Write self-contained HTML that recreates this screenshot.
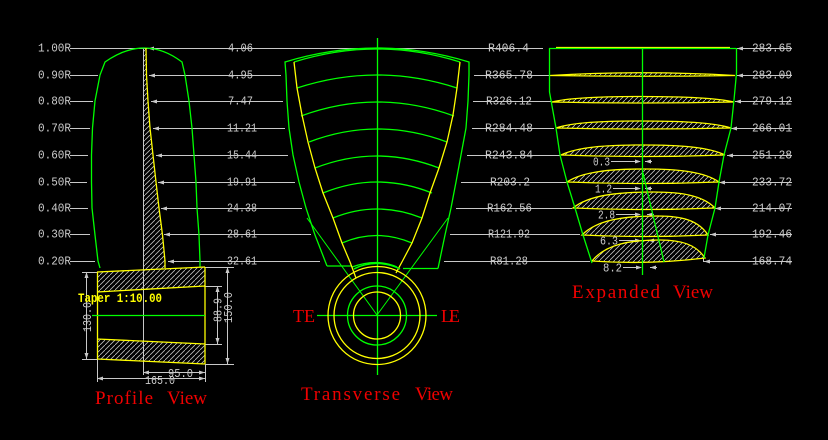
<!DOCTYPE html>
<html><head><meta charset="utf-8"><style>
html,body{margin:0;padding:0;background:#000;}
svg{display:block;}
.g text{font-family:"Liberation Mono",monospace;font-size:12px;fill:#cccccc;}
.r{font-family:"Liberation Serif",serif;font-size:19px;fill:#f00000;}
</style></head><body>
<svg width="828" height="440" viewBox="0 0 828 440" xmlns="http://www.w3.org/2000/svg">
<defs>
<pattern id="h" width="5" height="5" patternUnits="userSpaceOnUse">
<path d="M-1,6 L6,-1" stroke="#bdbdbd" stroke-width="0.8" fill="none"/>
</pattern>
</defs>
<rect width="828" height="440" fill="#000"/>

<!-- ===== hatch fills ===== -->
<polygon points="143,48 146,48 146.5,75 148,101 150,128 153,155 156,182 159,208 162.5,235 165,261 165,270 143,270" fill="url(#h)"/>
<polygon points="97,272 205,267 205,286 97,292" fill="url(#h)"/>
<polygon points="97,339 205,344 205,364 97,359" fill="url(#h)"/>

<!-- expanded sections hatch -->
<g fill="url(#h)">
<path d="M550,75.5 Q643,70 735,75.5 Q643,77 550,75.5Z"/>
<path d="M552,102 C569.6,97.6 600.4,96.5 640,96.5 C682.3,96.5 715.2,97.6 734,102 Q643,104 552,102Z"/>
<path d="M556,128 C572.8,122.4 602.2,121 640,121 C681,121 712.8,122.4 731,128 Q643.5,130 556,128Z"/>
<path d="M561,155 C577.4,147 606.1,145 643,145 C679.9,145 708.6,147 725,155 Q643,158 561,155Z"/>
<path d="M567,182 C582.6,171.6 609.9,169 645,169 C678.3,169 704.2,171.6 719,182 Q643,185 567,182Z"/>
<path d="M573,208 C589,195.2 617,192 653,192 C680.9,192 702.6,195.2 715,208 Q644,211 573,208Z"/>
<path d="M582,235 C597.2,219.8 623.8,216 658,216 C680.5,216 698,219.8 708,235 Q645,238 582,235Z"/>
<path d="M592,261 C605.6,244.2 629.4,240 660,240 C680.3,240 696,244.2 705,258 Q648,265 592,261Z"/>
</g>

<!-- ===== gray lines ===== -->
<g stroke="#c8c8c8" stroke-width="1" fill="none">
<path d="M70,48.5 L543,48.5 M737,48.5 L792,48.5"/>
<path d="M70,75.5 L98,75.5 M149,75.5 L281,75.5 M474,75.5 L549,75.5 M737,75.5 L792,75.5"/>
<path d="M70,101.5 L93,101.5 M151,101.5 L283,101.5 M473,101.5 L551,101.5 M735,101.5 L792,101.5"/>
<path d="M70,128.5 L90,128.5 M153,128.5 L285,128.5 M472,128.5 L554,128.5 M731,128.5 L792,128.5"/>
<path d="M70,155.5 L88,155.5 M156,155.5 L288,155.5 M467,155.5 L560,155.5 M727,155.5 L792,155.5"/>
<path d="M70,182.5 L87,182.5 M158,182.5 L295,182.5 M461,182.5 L566,182.5 M719,182.5 L792,182.5"/>
<path d="M70,208.5 L88,208.5 M161,208.5 L302,208.5 M456,208.5 L572,208.5 M715,208.5 L792,208.5"/>
<path d="M70,234.5 L90,234.5 M164,234.5 L311,234.5 M450,234.5 L580,234.5 M710,234.5 L792,234.5"/>
<path d="M70,261.5 L95,261.5 M168,261.5 L320,261.5 M444,261.5 L590,261.5 M704,261.5 L792,261.5"/>
<!-- profile center line -->
<path d="M143.5,48 L143.5,375"/>
<!-- hub dimension lines -->
<path d="M82,272.5 L97,272.5 M82,359.5 L97,359.5 M86.5,272 L86.5,359"/>
<path d="M205,286.5 L222,286.5 M205,344.5 L222,344.5 M217.5,286 L217.5,344"/>
<path d="M205,267.5 L234,267.5 M205,364.5 L234,364.5 M227.5,267 L227.5,364"/>
<path d="M97.5,359 L97.5,382 M205.5,364 L205.5,382"/>
<path d="M143,372.5 L205,372.5 M97,378.5 L205,378.5"/>
<!-- expanded small dims -->
<path d="M611,161.5 L640,161.5 M645,161.5 L652,161.5"/>
<path d="M613,188.5 L640,188.5 M645,188.5 L652,188.5"/>
<path d="M616,214.5 L640,214.5 M647,214.5 L654,214.5"/>
<path d="M619,240.5 L640,240.5 M648,240.5 L655,240.5"/>
<path d="M623,267.5 L641,267.5 M650,267.5 L657,267.5"/>
<path d="M703.5,258 L703.5,262"/>
</g>

<!-- arrowheads -->
<g fill="#c8c8c8">
<polygon points="148,48.5 154,46.5 154,50.5"/>
<polygon points="149,75.5 155,73.5 155,77.5"/>
<polygon points="151,101.5 157,99.5 157,103.5"/>
<polygon points="153,128.5 159,126.5 159,130.5"/>
<polygon points="156,155.5 162,153.5 162,157.5"/>
<polygon points="158,182.5 164,180.5 164,184.5"/>
<polygon points="161,208.5 167,206.5 167,210.5"/>
<polygon points="164,234.5 170,232.5 170,236.5"/>
<polygon points="168,261.5 174,259.5 174,263.5"/>

<polygon points="737,48.5 743,46.5 743,50.5"/>
<polygon points="737,75.5 743,73.5 743,77.5"/>
<polygon points="735,101.5 741,99.5 741,103.5"/>
<polygon points="731,128.5 737,126.5 737,130.5"/>
<polygon points="727,155.5 733,153.5 733,157.5"/>
<polygon points="719,182.5 725,180.5 725,184.5"/>
<polygon points="715,208.5 721,206.5 721,210.5"/>
<polygon points="710,234.5 716,232.5 716,236.5"/>
<polygon points="704,261.5 710,259.5 710,263.5"/>

<!-- expanded small dims arrows -->
<polygon points="641,161.5 635,159.5 635,163.5"/><polygon points="645,161.5 651,159.5 651,163.5"/>
<polygon points="641,188.5 635,186.5 635,190.5"/><polygon points="645,188.5 651,186.5 651,190.5"/>
<polygon points="641,214.5 635,212.5 635,216.5"/><polygon points="647,214.5 653,212.5 653,216.5"/>
<polygon points="641,240.5 635,238.5 635,242.5"/><polygon points="648,240.5 654,238.5 654,242.5"/>
<polygon points="642,267.5 636,265.5 636,269.5"/><polygon points="650,267.5 656,265.5 656,269.5"/>

<!-- hub dims arrows -->
<polygon points="86.5,272 84.5,278 88.5,278"/><polygon points="86.5,359 84.5,353 88.5,353"/>
<polygon points="217.5,286 215.5,292 219.5,292"/><polygon points="217.5,344 215.5,338 219.5,338"/>
<polygon points="227.5,267 225.5,273 229.5,273"/><polygon points="227.5,364 225.5,358 229.5,358"/>
<polygon points="143,372.5 149,370.5 149,374.5"/><polygon points="205,372.5 199,370.5 199,374.5"/>
<polygon points="97,378.5 103,376.5 103,380.5"/><polygon points="205,378.5 199,376.5 199,380.5"/>
</g>

<!-- ===== profile view ===== -->
<path d="M100,268 L98,261 L95,235 L92,208 L91.5,182 L91.5,155 L92.5,128 L95,101 L100,75 L105,62 Q145,34 182,62 L185,75 L189,101 L192,128 L194,155 L196,182 L197,208 L199,235 L200,261 L200,267" stroke="#00ff00" fill="none" stroke-width="1.3"/>
<polyline points="146,48 146.5,75 148,101 150,128 153,155 156,182 159,208 162.5,235 165,261 165,268" stroke="#ffff00" fill="none" stroke-width="1.3"/>
<path d="M97,272 L205,267 M97,292 L205,286 M97,339 L205,344 M97,359 L205,364 M97.5,272 L97.5,359 M205,267 L205,364" stroke="#ffff00" fill="none" stroke-width="1.3"/>
<path d="M92,315.5 L205,315.5" stroke="#00ff00" stroke-width="1.2"/>

<!-- ===== transverse view ===== -->
<g stroke="#00ff00" fill="none" stroke-width="1.3">
<path d="M327,266 L315,235 L306,208 L299,182 L293,155 L289,128 L287,101 L286,75 L285,62 Q377,34 469,62 L469,75 L468,101 L466,128 L461,155 L456,182 L451,208 L445,235 L438,268.5"/>
<path d="M294,62 Q377,36 460,62"/>
<path d="M297,88 Q377,62 457,88"/>
<path d="M301,116 Q377,88 454,116"/>
<path d="M309,142 Q377,116 447,142"/>
<path d="M315,168 Q377,144 439,168"/>
<path d="M323,193 Q377,171 432,193"/>
<path d="M333,218 Q377,200 422,218"/>
<path d="M342,243 Q377,228 412,243"/>
<path d="M352,267 Q377,258 397,267"/>
<path d="M327,266 L352,266 M403,268.5 L438,268.5"/>
<path d="M307,218 L377,315 M448,218 L377,315" stroke-width="1"/>
<path d="M377.5,38 L377.5,375 M317,315.5 L437,315.5"/>
<circle cx="377" cy="315.5" r="29.5"/>
<path d="M354,268.9 A52,52 0 0 1 400,268.9"/>
</g>
<path d="M294,62 L297,88 L302,115 L308,142 L315,168 L323,193 L333,218 L342,243 L350,262 L356,278" stroke="#ffff00" fill="none" stroke-width="1.3"/>
<path d="M460,62 L457,88 L453,115 L447,142 L439,168 L430,193 L422,218 L412,243 L403,260 L396,273" stroke="#ffff00" fill="none" stroke-width="1.3"/>
<g stroke="#ffff00" fill="none" stroke-width="1.3">
<circle cx="377" cy="315.5" r="23.5"/>
<circle cx="377" cy="315.5" r="43"/>
<circle cx="377" cy="315.5" r="49"/>
</g>
<path d="M354,269 A49,49 0 0 1 400,269" stroke="#00ff00" fill="none" stroke-width="1.3"/>

<!-- ===== expanded view ===== -->
<g stroke="#ffff00" fill="none" stroke-width="1.3">
<path d="M556,47.5 L730,47.5"/>
<path d="M550,75.5 Q643,70 735,75.5 Q643,77 550,75.5Z"/>
<path d="M552,102 C569.6,97.6 600.4,96.5 640,96.5 C682.3,96.5 715.2,97.6 734,102 Q643,104 552,102Z"/>
<path d="M556,128 C572.8,122.4 602.2,121 640,121 C681,121 712.8,122.4 731,128 Q643.5,130 556,128Z"/>
<path d="M561,155 C577.4,147 606.1,145 643,145 C679.9,145 708.6,147 725,155 Q643,158 561,155Z"/>
<path d="M567,182 C582.6,171.6 609.9,169 645,169 C678.3,169 704.2,171.6 719,182 Q643,185 567,182Z"/>
<path d="M573,208 C589,195.2 617,192 653,192 C680.9,192 702.6,195.2 715,208 Q644,211 573,208Z"/>
<path d="M582,235 C597.2,219.8 623.8,216 658,216 C680.5,216 698,219.8 708,235 Q645,238 582,235Z"/>
<path d="M592,261 C605.6,244.2 629.4,240 660,240 C680.3,240 696,244.2 705,258 Q648,265 592,261Z"/>
</g>
<g stroke="#00ff00" fill="none" stroke-width="1.3">
<path d="M549,48.5 L736,48.5"/>
<path d="M549.5,48 L549.5,92 L556,128 L560,155 L567,182 L575,208 L583,235 L592,263"/>
<path d="M736.5,48 L736.5,73 L734,100 L731,128 L724,155 L719,182 L715,208 L708,235 L704,258"/>
<path d="M642.5,48 L642.5,275"/>
<path d="M643,173 L664,262"/>
</g>

<!-- ===== gray text ===== -->
<g class="g">
<text x="38" y="51.5" textLength="33" lengthAdjust="spacingAndGlyphs">1.00R</text>
<text x="38" y="78.5" textLength="33" lengthAdjust="spacingAndGlyphs">0.90R</text>
<text x="38" y="104.5" textLength="33" lengthAdjust="spacingAndGlyphs">0.80R</text>
<text x="38" y="131.5" textLength="33" lengthAdjust="spacingAndGlyphs">0.70R</text>
<text x="38" y="158.5" textLength="33" lengthAdjust="spacingAndGlyphs">0.60R</text>
<text x="38" y="185.5" textLength="33" lengthAdjust="spacingAndGlyphs">0.50R</text>
<text x="38" y="211.5" textLength="33" lengthAdjust="spacingAndGlyphs">0.40R</text>
<text x="38" y="237.5" textLength="33" lengthAdjust="spacingAndGlyphs">0.30R</text>
<text x="38" y="264.5" textLength="33" lengthAdjust="spacingAndGlyphs">0.20R</text>

<text x="228" y="51.5" textLength="25" lengthAdjust="spacingAndGlyphs">4.06</text>
<text x="228" y="78.5" textLength="25" lengthAdjust="spacingAndGlyphs">4.95</text>
<text x="228" y="104.5" textLength="25" lengthAdjust="spacingAndGlyphs">7.47</text>
<text x="227" y="131.5" textLength="30" lengthAdjust="spacingAndGlyphs">11.21</text>
<text x="227" y="158.5" textLength="30" lengthAdjust="spacingAndGlyphs">15.44</text>
<text x="227" y="185.5" textLength="30" lengthAdjust="spacingAndGlyphs">19.91</text>
<text x="227" y="211.5" textLength="30" lengthAdjust="spacingAndGlyphs">24.38</text>
<text x="227" y="237.5" textLength="30" lengthAdjust="spacingAndGlyphs">28.61</text>
<text x="227" y="264.5" textLength="30" lengthAdjust="spacingAndGlyphs">32.61</text>

<text x="488" y="51.5" textLength="41" lengthAdjust="spacingAndGlyphs">R406.4</text>
<text x="485" y="78.5" textLength="48" lengthAdjust="spacingAndGlyphs">R365.78</text>
<text x="486" y="104.5" textLength="46" lengthAdjust="spacingAndGlyphs">R326.12</text>
<text x="485" y="131.5" textLength="48" lengthAdjust="spacingAndGlyphs">R284.48</text>
<text x="485" y="158.5" textLength="48" lengthAdjust="spacingAndGlyphs">R243.84</text>
<text x="490" y="185.5" textLength="40" lengthAdjust="spacingAndGlyphs">R203.2</text>
<text x="487" y="211.5" textLength="45" lengthAdjust="spacingAndGlyphs">R162.56</text>
<text x="488" y="237.5" textLength="42" lengthAdjust="spacingAndGlyphs">R121.92</text>
<text x="490" y="264.5" textLength="38" lengthAdjust="spacingAndGlyphs">R81.28</text>

<text x="752" y="51.5" textLength="40" lengthAdjust="spacingAndGlyphs">283.65</text>
<text x="752" y="78.5" textLength="40" lengthAdjust="spacingAndGlyphs">283.09</text>
<text x="752" y="104.5" textLength="40" lengthAdjust="spacingAndGlyphs">279.12</text>
<text x="752" y="131.5" textLength="40" lengthAdjust="spacingAndGlyphs">266.01</text>
<text x="752" y="158.5" textLength="40" lengthAdjust="spacingAndGlyphs">251.28</text>
<text x="752" y="185.5" textLength="40" lengthAdjust="spacingAndGlyphs">233.72</text>
<text x="752" y="211.5" textLength="40" lengthAdjust="spacingAndGlyphs">214.07</text>
<text x="752" y="237.5" textLength="40" lengthAdjust="spacingAndGlyphs">192.46</text>
<text x="752" y="264.5" textLength="40" lengthAdjust="spacingAndGlyphs">168.74</text>

<text x="593" y="165.5" textLength="17" lengthAdjust="spacingAndGlyphs">0.3</text>
<text x="595" y="192.5" textLength="17" lengthAdjust="spacingAndGlyphs">1.2</text>
<text x="598" y="218.5" textLength="17" lengthAdjust="spacingAndGlyphs">2.8</text>
<text x="600" y="244.5" textLength="18" lengthAdjust="spacingAndGlyphs">6.3</text>
<text x="603" y="271.5" textLength="19" lengthAdjust="spacingAndGlyphs">8.2</text>

<text x="168" y="377" textLength="25" lengthAdjust="spacingAndGlyphs">95.0</text>
<text x="145" y="384" textLength="30" lengthAdjust="spacingAndGlyphs">165.0</text>
<text transform="translate(91,332) rotate(-90)" x="0" y="0" textLength="30" lengthAdjust="spacingAndGlyphs">130.0</text>
<text transform="translate(221.5,322) rotate(-90)" x="0" y="0" textLength="24" lengthAdjust="spacingAndGlyphs">88.9</text>
<text transform="translate(232,323) rotate(-90)" x="0" y="0" textLength="31" lengthAdjust="spacingAndGlyphs">150.0</text>
</g>

<text x="78" y="302" style="font-family:'Liberation Mono',monospace;font-size:13px;font-weight:bold;fill:#ffff00" textLength="84" lengthAdjust="spacingAndGlyphs">Taper 1:10.00</text>

<!-- ===== red titles ===== -->
<text class="r" x="95" y="404" textLength="58" lengthAdjust="spacing">Profile</text>
<text class="r" x="167" y="404" textLength="40" lengthAdjust="spacing">View</text>
<text class="r" x="301" y="400" textLength="99" lengthAdjust="spacing">Transverse</text>
<text class="r" x="415" y="400" textLength="38" lengthAdjust="spacing">View</text>
<text class="r" x="572" y="298" textLength="88" lengthAdjust="spacing">Expanded</text>
<text class="r" x="673" y="298" textLength="40" lengthAdjust="spacing">View</text>
<text class="r" x="293" y="322" style="font-size:18px" textLength="22" lengthAdjust="spacing">TE</text>
<text class="r" x="441" y="322" style="font-size:18px" textLength="19" lengthAdjust="spacing">LE</text>
</svg>
</body></html>
